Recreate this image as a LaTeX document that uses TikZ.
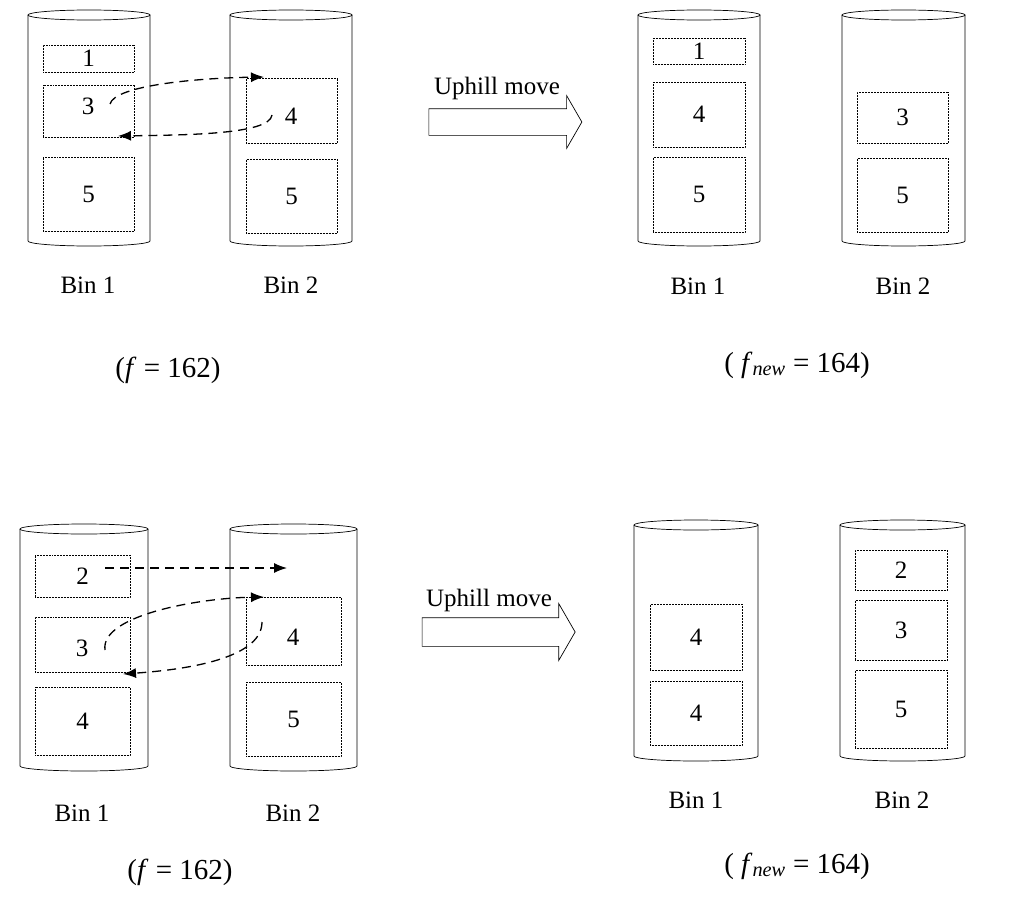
\documentclass[tikz,border=0pt]{standalone}
\usepackage{fontspec}
\setmainfont{Liberation Serif}
\usetikzlibrary{shapes.arrows,arrows.meta}
\newcommand\bincyl[4]{% x1 x2 ytop ybot
  \draw[line width=0.7pt] (#1,#3) -- (#1,#4) arc[start angle=180,end angle=0,x radius={(#2-#1)/2},y radius=5] -- (#2,#3);
  \draw[line width=0.7pt] ({(#1+#2)/2},#3) ellipse[x radius={(#2-#1)/2},y radius=5];}
\begin{document}
\begin{tikzpicture}[x=1pt,y=-1pt,
  txt/.style={font=\fontsize{25}{28}\selectfont},
  ftxt/.style={font=\fontsize{29}{32}\selectfont},
  item/.style={draw,densely dotted,line width=0.5pt,inner sep=0},
  mv/.style={line width=1.3pt,dash pattern=on 9pt off 6pt,-{Latex[length=13pt,width=10pt]}},
  big/.style={draw,single arrow,single arrow head extend=13pt,single arrow tip angle=120,inner sep=13pt,minimum height=153pt,line width=0.7pt}]
\useasboundingbox (0,0) rectangle (1009,899);
\newcommand\itm[5]{\node[item,minimum width={#3-#2},minimum height={#5-#4}] (#1) at ({(#2+#3)/2},{(#4+#5)/2}) {};}
% top left
\bincyl{28}{150}{15}{241}
\bincyl{230}{352}{15}{241}
\itm{a1}{43}{134}{45}{72}\node[txt] at (a1) {1};
\itm{a3}{43}{134}{85}{137}\node[txt] at (88,106) {3};
\itm{a5}{43}{134}{157}{231}\node[txt] at (a5) {5};
\itm{b4}{246}{337}{78}{143}\node[txt] at (291,116) {4};
\itm{b5}{246}{337}{159}{233}\node[txt] at (b5) {5};
\coordinate (s1) at (110,104); \coordinate (e1) at (264,77);
\coordinate (s2) at (272,115); \coordinate (e2) at (118,136);
\draw[mv] (s1) .. controls (115,85) and (200,78) .. (e1);
\draw[mv] (s2) .. controls (270,135) and (180,135) .. (e2);
\node[txt] at (88,285) {Bin 1};
\node[txt] at (291,285) {Bin 2};
\node[ftxt] at (168,370) {(\textit{f} = 162)};
\node[big] (u1) at (501.5,122) {};
\node[txt] at (497,88) {Uphill move};
% top right
\bincyl{638}{760}{15}{241}
\bincyl{842}{965}{15}{241}
\itm{c1}{653}{745}{38}{64}\node[txt] at (c1) {1};
\itm{c4}{653}{745}{82}{147}\node[txt] at (c4) {4};
\itm{c5}{653}{745}{157}{232}\node[txt] at (c5) {5};
\itm{d3}{857}{948}{92}{143}\node[txt] at (d3) {3};
\itm{d5}{857}{948}{158}{232}\node[txt] at (d5) {5};
\node[txt] at (698,286) {Bin 1};
\node[txt] at (903,286) {Bin 2};
\node[ftxt] at (797,365) {( \textit{f}\textsubscript{\textit{new}} = 164)};
% bottom left
\bincyl{20}{148}{529}{766}
\bincyl{230}{357}{529}{766}
\itm{e2b}{35}{130}{555}{597}\node[txt] at (e2b) {2};
\itm{e3b}{35}{130}{617}{672}\node[txt] at (82,648) {3};
\itm{e4b}{35}{130}{687}{755}\node[txt] at (e4b) {4};
\itm{f4}{246}{341}{597}{665}\node[txt] at (293,637) {4};
\itm{f5}{246}{341}{682}{756}\node[txt] at (f5) {5};
\coordinate (s3) at (105,568); \coordinate (e3) at (287,568);
\coordinate (s4) at (105,650); \coordinate (e4) at (264,597);
\coordinate (s5) at (262,622); \coordinate (e5) at (123,674);
\draw[mv] (s3) -- (e3);
\draw[mv] (s4) .. controls (100,615) and (200,598) .. (e4);
\draw[mv] (s5) .. controls (262,660) and (180,670) .. (e5);
\node[txt] at (82,813) {Bin 1};
\node[txt] at (293,813) {Bin 2};
\node[ftxt] at (180,872) {(\textit{f} = 162)};
\node[big,inner sep=14pt,single arrow head extend=14pt] (u2) at (494.5,632) {};
\node[txt] at (489,600) {Uphill move};
% bottom right
\bincyl{634}{758}{525}{756}
\bincyl{840}{965}{525}{756}
\itm{g4}{650}{742}{604}{670}\node[txt] at (g4) {4};
\itm{g4b}{650}{742}{681}{745}\node[txt] at (g4b) {4};
\itm{h2}{855}{947}{550}{590}\node[txt] at (h2) {2};
\itm{h3}{855}{947}{600}{660}\node[txt] at (h3) {3};
\itm{h5}{855}{947}{670}{748}\node[txt] at (h5) {5};
\node[txt] at (696,800) {Bin 1};
\node[txt] at (902,800) {Bin 2};
\node[ftxt] at (797,866) {( \textit{f}\textsubscript{\textit{new}} = 164)};
\end{tikzpicture}
\end{document}
